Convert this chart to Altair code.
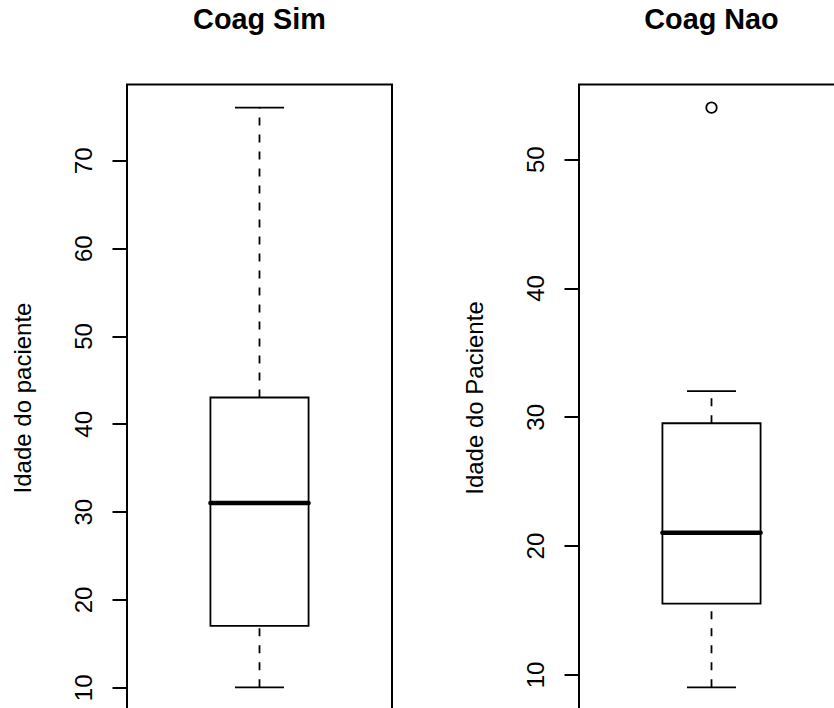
import altair as alt
import pandas as pd

# Five-number summaries of patient age per group (lower whisker, Q1, median, Q3, upper whisker)
groups = ["Coag Sim", "Coag Nao"]
axis_titles = ["Idade do paciente", "Idade do Paciente"]
whisker_low = [10, 9]
q1 = [17, 15.5]
median = [31, 21]
q3 = [43, 29.5]
whisker_high = [76, 32]
outliers = [[], [54]]
y_ticks = [[10, 20, 30, 40, 50, 60, 70], [10, 20, 30, 40, 50]]

FONT = "Liberation Sans"
CENTER = 1.0      # box position on the x scale
HALF_BOX = 0.2    # half of the box width
HALF_CAP = 0.1    # half of the whisker cap width
PANEL_W = 265
PANEL_H = 626


def panel(i):
    lo = min([whisker_low[i]] + outliers[i])
    hi = max([whisker_high[i]] + outliers[i])
    ext = 0.04 * (hi - lo)
    y_scale = alt.Scale(domain=[lo - ext, hi + ext], nice=False, zero=False)
    x_scale = alt.Scale(domain=[CENTER - 0.54, CENTER + 0.54], nice=False, zero=False)
    y_axis = alt.Axis(values=y_ticks[i], title=axis_titles[i])
    no_x = alt.Axis(labels=False, ticks=False, domain=False, title=None, grid=False)

    box = pd.DataFrame({
        "x": [CENTER - HALF_BOX], "x2": [CENTER + HALF_BOX],
        "q1": [q1[i]], "q3": [q3[i]], "median": [median[i]],
    })
    whiskers = pd.DataFrame({
        "x": [CENTER, CENTER],
        "y": [q3[i], whisker_low[i]],
        "y2": [whisker_high[i], q1[i]],
    })
    caps = pd.DataFrame({
        "x": [CENTER - HALF_CAP] * 2, "x2": [CENTER + HALF_CAP] * 2,
        "y": [whisker_low[i], whisker_high[i]],
    })

    whisker_layer = alt.Chart(whiskers).mark_rule(
        color="black", strokeWidth=1.8, strokeDash=[8, 9]
    ).encode(
        x=alt.X("x:Q", scale=x_scale, axis=no_x),
        y=alt.Y("y:Q", scale=y_scale, axis=y_axis),
        y2="y2:Q",
    )
    cap_layer = alt.Chart(caps).mark_rule(color="black", strokeWidth=1.8).encode(
        x=alt.X("x:Q", scale=x_scale, axis=no_x),
        x2="x2:Q",
        y=alt.Y("y:Q", scale=y_scale, axis=y_axis),
    )
    box_layer = alt.Chart(box).mark_rect(
        fill="white", stroke="black", strokeWidth=1.8
    ).encode(
        x=alt.X("x:Q", scale=x_scale, axis=no_x),
        x2="x2:Q",
        y=alt.Y("q1:Q", scale=y_scale, axis=y_axis),
        y2="q3:Q",
    )
    median_layer = alt.Chart(box).mark_rule(
        color="black", strokeWidth=4.5, strokeCap="round"
    ).encode(
        x=alt.X("x:Q", scale=x_scale, axis=no_x),
        x2="x2:Q",
        y=alt.Y("median:Q", scale=y_scale, axis=y_axis),
    )
    layers = [whisker_layer, cap_layer, box_layer, median_layer]

    if outliers[i]:
        out = pd.DataFrame({"x": [CENTER] * len(outliers[i]), "y": outliers[i]})
        layers.append(
            alt.Chart(out).mark_point(
                shape="circle", filled=False, size=110, color="black",
                strokeWidth=1.8, opacity=1,
            ).encode(
                x=alt.X("x:Q", scale=x_scale, axis=no_x),
                y=alt.Y("y:Q", scale=y_scale, axis=y_axis),
            )
        )

    return alt.layer(*layers).properties(
        width=PANEL_W, height=PANEL_H, title=groups[i]
    )


chart = alt.hconcat(panel(0), panel(1), spacing=187, bounds="flush").properties(
    autosize=alt.AutoSizeParams(type="none"),
    padding={"left": 127, "top": 84.5, "right": 707, "bottom": 623.5},
    background="white",
).configure_view(
    stroke="black", strokeWidth=2, fill="white"
).configure_axis(
    grid=False, domain=False,
    tickColor="black", tickWidth=2, tickSize=15,
    labelFont=FONT, labelFontSize=24, labelColor="black",
    labelAngle=270, labelAlign="center", labelBaseline="alphabetic",
    labelPadding=21, labelOverlap=False,
    titleFont=FONT, titleFontSize=24, titleFontWeight="normal", titleColor="black",
    titleAngle=270, titleAlign="center", titleBaseline="alphabetic",
    titleX=-97, titleY=313,
).configure_title(
    font=FONT, fontSize=28.8, fontWeight="bold", color="black",
    anchor="middle", frame="group", baseline="alphabetic", offset=49.5,
)

chart.save("out.html", embed_options={"renderer": "svg", "actions": False})
